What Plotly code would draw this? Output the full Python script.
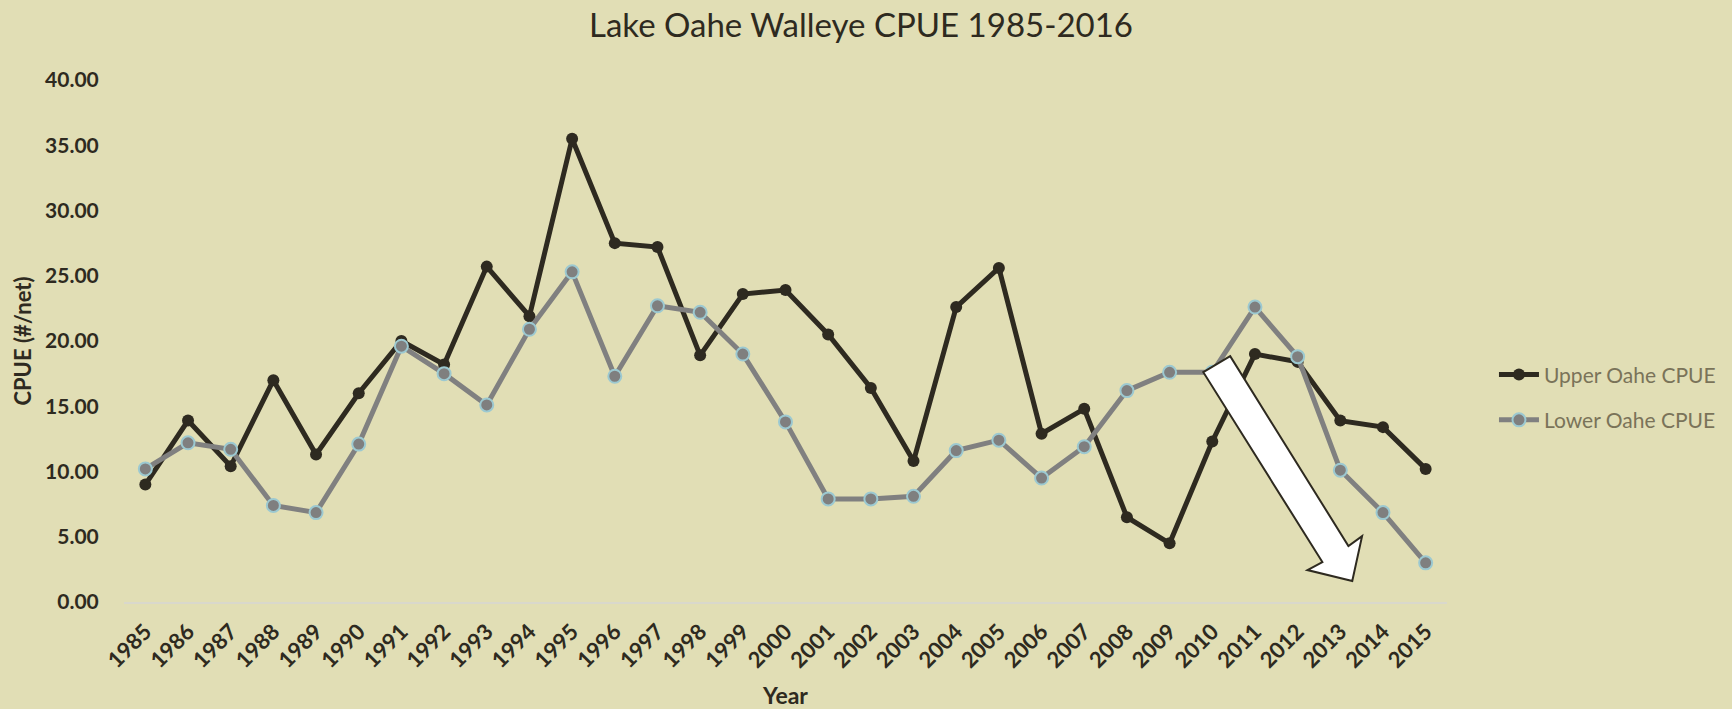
import plotly.graph_objects as go

years = list(range(1985, 2016))
upper_cpue = [9.0, 13.9, 10.4, 17.0, 11.3, 16.0, 20.0, 18.2, 25.7, 21.9,
              35.5, 27.5, 27.2, 18.9, 23.6, 23.9, 20.5, 16.4, 10.8, 22.6,
              25.6, 12.9, 14.8, 6.5, 4.5, 12.3, 19.0, 18.4, 13.9, 13.4, 10.2]
lower_cpue = [10.2, 12.2, 11.7, 7.4, 6.85, 12.1, 19.6, 17.5, 15.1, 20.9,
              25.3, 17.3, 22.7, 22.2, 19.0, 13.8, 7.9, 7.9, 8.1, 11.6,
              12.4, 9.5, 11.9, 16.2, 17.6, 17.6, 22.6, 18.8, 10.1, 6.85, 3.0]
y_ticks = [0, 5, 10, 15, 20, 25, 30, 35, 40]

BG = "#E1DEB5"
DARK = "#2E2A20"
FONT = "Lato"

fig = go.Figure()
fig.add_trace(go.Scatter(
    x=years, y=upper_cpue, name="Upper Oahe CPUE", mode="lines+markers",
    line=dict(color=DARK, width=5),
    marker=dict(color=DARK, size=12, line=dict(color=DARK, width=0)),
    legendgroup="u",
))
fig.add_trace(go.Scatter(
    x=years, y=lower_cpue, name="Lower Oahe CPUE", mode="lines+markers",
    line=dict(color="#808080", width=5),
    marker=dict(color="#7F7F7F", size=13, line=dict(color="#9CC9D1", width=2)),
    legendgroup="l",
))

# block arrow (annotation) in data coordinates
arrow = [(2009.79, 17.61), (2010.42, 18.84), (2013.19, 4.29), (2013.51, 5.05),
         (2013.28, 1.61), (2012.23, 2.45), (2012.58, 3.06)]
path = "M " + " L ".join(f"{x},{y}" for x, y in arrow) + " Z"
fig.add_shape(type="path", path=path, xref="x", yref="y",
              fillcolor="white", line=dict(color=DARK, width=2), layer="above")

fig.update_layout(
    width=1732, height=709,
    paper_bgcolor=BG, plot_bgcolor=BG,
    margin=dict(l=124, r=285, t=80, b=107, autoexpand=False),
    title=dict(text="Lake Oahe Walleye CPUE 1985-2016", x=861 / 1732, xanchor="center",
               y=1 - 25 / 709, yanchor="middle",
               font=dict(family=FONT, size=33, color=DARK)),
    font=dict(family=FONT, color=DARK),
    showlegend=True,
    legend=dict(x=1.0355, xanchor="left", y=0.392, yanchor="middle",
                font=dict(family=FONT, size=21, color="#7A7359"),
                bgcolor="rgba(0,0,0,0)", tracegroupgap=15, itemwidth=40),
)
fig.update_xaxes(
    tickmode="array", tickvals=years, ticktext=[str(y) for y in years],
    range=[1984.5, 2015.5], tickangle=-45, automargin=False,
    tickfont=dict(family=FONT, size=22, color=DARK, weight="bold"),
    showgrid=False, zeroline=False,
    showline=True, linecolor="#D9D8CC", linewidth=2,
    ticks="outside", ticklen=6, tickcolor="rgba(0,0,0,0)",
    title=dict(text="<b>Year</b>", font=dict(family=FONT, size=23, color=DARK), standoff=22),
)
fig.update_yaxes(
    range=[0, 40], tickmode="array", tickvals=y_ticks, automargin=False,
    ticktext=[f"{v:.2f}" for v in y_ticks],
    tickfont=dict(family=FONT, size=21, color=DARK, weight="bold"),
    showgrid=False, zeroline=False, showline=False,
    ticks="outside", ticklen=20, tickcolor="rgba(0,0,0,0)",
    title=dict(text="<b>CPUE (#/net)</b>", font=dict(family=FONT, size=22, color=DARK), standoff=7),
)

fig.write_html(
    "out.html",
    config={"displayModeBar": False},
    post_script="document.body.style.margin='0';document.body.style.background='#E1DEB5';",
)
